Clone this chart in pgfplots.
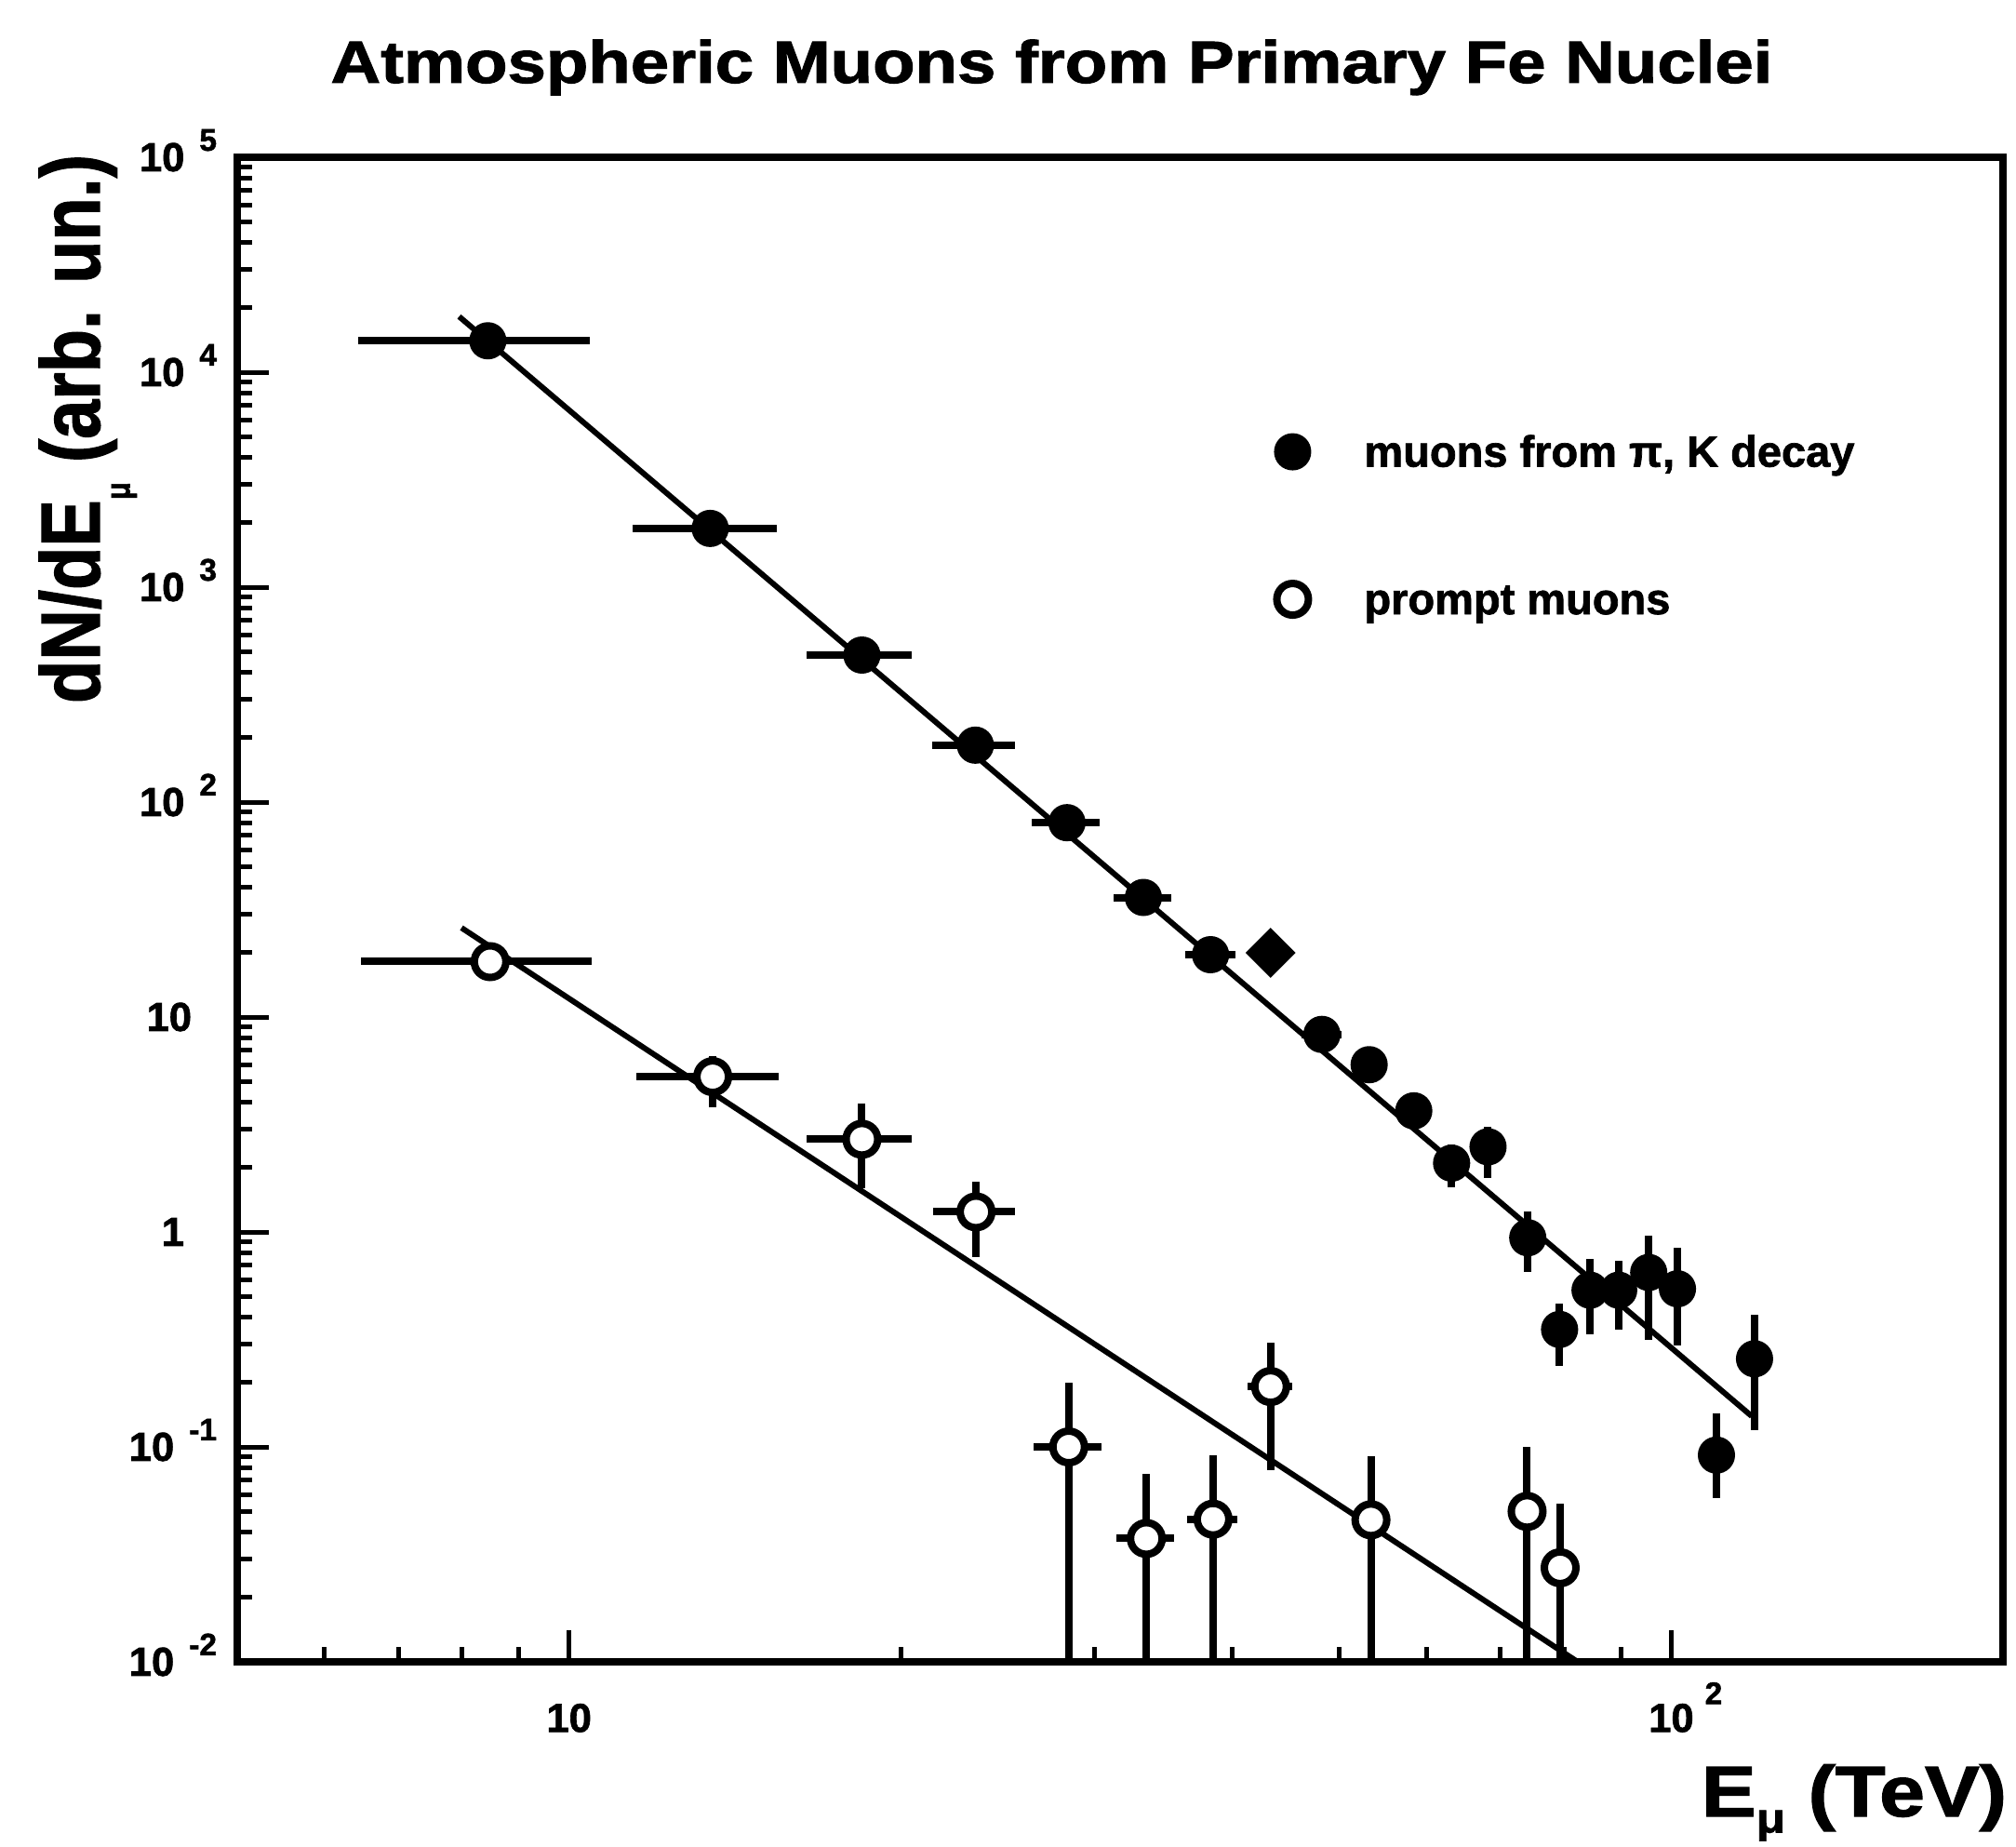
\documentclass[border=0pt]{standalone}
\usepackage{fontspec}
\setmainfont{Liberation Sans}
\newfontfamily\hv[FakeBold=1.5]{Liberation Sans Bold}
\usepackage{graphicx}
\usepackage{pgfplots}
\pgfplotsset{compat=1.18}
\newcommand{\tf}{\hv\fontsize{8.7}{9}\selectfont}
\newcommand{\ef}{\hv\fontsize{6.7}{7}\selectfont}
\newcommand{\ey}[1]{\hspace{3.2pt}\smash{\raisebox{4.4pt}{\ef #1}}}
\newcommand{\ex}[1]{\rlap{\hspace{2.4pt}\smash{\raisebox{6pt}{\ef #1}}}}
\begin{document}
\begin{tikzpicture}
\useasboundingbox (-51pt,-39.6pt) rectangle (382.4pt,357.2pt);
\begin{axis}[
  at={(0pt,0pt)}, anchor=south west,
  scale only axis, width=379.6pt, height=323.4pt,
  xmode=log, ymode=log,
  xmin=5, xmax=200, ymin=1e-2, ymax=1e5,
  axis line style={line width=1.6pt},
  tick align=inside, xtick pos=bottom, ytick pos=left,
  major tick length=6.8pt, minor tick length=3.3pt,
  tick style={line width=1pt, black},
  xtick={10,100},
  xticklabels={{10},{10\ex{2}}},
  minor xtick={6,7,8,9,20,30,40,50,60,70,80,90},
  ytick={0.01,0.1,1,10,100,1000,10000,100000},
  yticklabels={{10\ey{-2}},{10\ey{-1}},{1\hspace*{7pt}},{10\hspace*{5.4pt}},{10\ey{2}},{10\ey{3}},{10\ey{4}},{10\ey{5}}},
  minor ytick={0.02,0.03,0.04,0.05,0.06,0.07,0.08,0.09,
    0.2,0.3,0.4,0.5,0.6,0.7,0.8,0.9,
    2,3,4,5,6,7,8,9,
    20,30,40,50,60,70,80,90,
    200,300,400,500,600,700,800,900,
    2000,3000,4000,5000,6000,7000,8000,9000,
    20000,30000,40000,50000,60000,70000,80000,90000},
  xticklabel style={font=\tf, anchor=north, inner sep=0pt, yshift=-8.8pt},
  yticklabel style={font=\tf, anchor=east, inner sep=0pt, xshift=-4.2pt},
  legend style={draw=none, fill=none, inner xsep=0pt, inner ysep=0pt,
    at={(axis description cs:0.5861,0.8166)}, anchor=north west,
    row sep=22.7pt, column sep=0pt,
    nodes={inner sep=0pt, text depth=2pt, font=\hv\fontsize{9.4}{10}\selectfont},
    cells={anchor=base west}},
  legend image code/.code={\draw[#1] plot coordinates {(4.2pt,3.2pt)}; \path[draw=none, fill=none] (0pt,-2pt) rectangle (19.6pt,7pt);},
]
\addlegendimage{only marks, mark=*, mark size=3.7pt, mark options={fill=black, draw=black, line width=0.6pt}}
\addlegendentry{muons from π, K decay}
\addlegendimage{only marks, mark=*, mark size=3.4pt, mark options={fill=white, draw=black, line width=1.6pt}}
\addlegendentry{prompt muons}

% fitted power laws
\addplot[line width=1.2pt, black, no marks, forget plot] coordinates {(7.95,18150) (118.3,0.139)};
\addplot[line width=1.2pt, black, no marks, forget plot] coordinates {(7.99,26.0) (90,0.00738)};

% muons from pi, K decay
\addplot[only marks, black, mark=*, mark size=3.7pt, mark options={fill=black, draw=black, line width=0.6pt}, forget plot,
  error bars/.cd, x dir=both, x explicit, y dir=both, y explicit, error mark=none,
  error bar style={line width=1.6pt, black}]
  table[x=x, y=y, x error plus=xp, x error minus=xm, y error plus=yp, y error minus=ym] {
x      y       xp  xm  yp      ym
8.44   14000   2   2   0       0
13.43  1876    2   2   0       0
18.44  483     2   2   0       0
23.37  184     2   2   0       0
28.3   80.2    2   2   0       0
33.2   36.0    2   2   0       0
38.2   19.5    2   2   0       0
48.2   8.3     2   2   0       0
53.2   6.0     2   2   0       0
58.4   3.66    2   2   0.5     0.5
63.2   2.09    2   2   0.45    0.48
68.2   2.49    2   2   0.6     0.70
74.1   0.94    2   2   0.30    0.29
79.2   0.352   2   2   0.112   0.113
84.4   0.536   2   2   0.21    0.202
89.6   0.536   2   2   0.199   0.184
95.4   0.648   2   2   0.312   0.333
101.3  0.544   2   2   0.30    0.248
109.9  0.0916  2   2   0.0514  0.0336
119.0  0.257   2   2   0.153   0.137
};
\addplot[only marks, black, mark=square*, mark size=3.6pt, mark options={rotate=45, fill=black, draw=black}, forget plot]
  coordinates {(43.3,19.9)};

% prompt muons
\addplot[only marks, black, mark=*, mark size=3.4pt, mark options={fill=white, draw=black, line width=1.6pt}, forget plot,
  error bars/.cd, x dir=both, x explicit, y dir=both, y explicit, error mark=none,
  error bar style={line width=1.6pt, black}]
  table[x=x, y=y, x error plus=xp, x error minus=xm, y error plus=yp, y error minus=ym] {
x      y       xp  xm  yp      ym
8.48   18.1    2   2   0       0
13.5   5.28    2   2   1.3     1.46
18.44  2.70    2   2   1.27    1.10
23.4   1.24    2   2   0.47    0.473
28.4   0.100   2   2   0.098   0.099
33.4   0.0375  2   2   0.0375  0.0365
38.4   0.0461  2   2   0.0455  0.0451
43.3   0.191   2   2   0.114   0.113
53.4   0.0458  2   2   0.0447  0.0448
74.0   0.0501  2   2   0.0503  0.0491
79.3   0.0274  2   2   0.0273  0.0264
};
\end{axis}
\node[anchor=base, inner sep=0pt] at (175.1pt,339.4pt)
  {\resizebox{310pt}{\height}{\hv\fontsize{12.8}{14}\selectfont Atmospheric Muons from Primary Fe Nuclei}};
\node[rotate=90, anchor=base, inner sep=0pt] at (-29.6pt,265pt)
  {\resizebox{118pt}{\height}{\hv\fontsize{18}{20}\selectfont dN/dE\raisebox{-6.5pt}{\fontsize{7.4}{8}\selectfont μ} (arb. un.)}};
\node[anchor=base east, inner sep=0pt] at (380.6pt,-33.2pt)
  {\resizebox{65.6pt}{\height}{\hv\fontsize{15.4}{17}\selectfont E\raisebox{-3.5pt}{\fontsize{9}{10}\selectfont μ} (TeV)}};
\end{tikzpicture}
\end{document}
